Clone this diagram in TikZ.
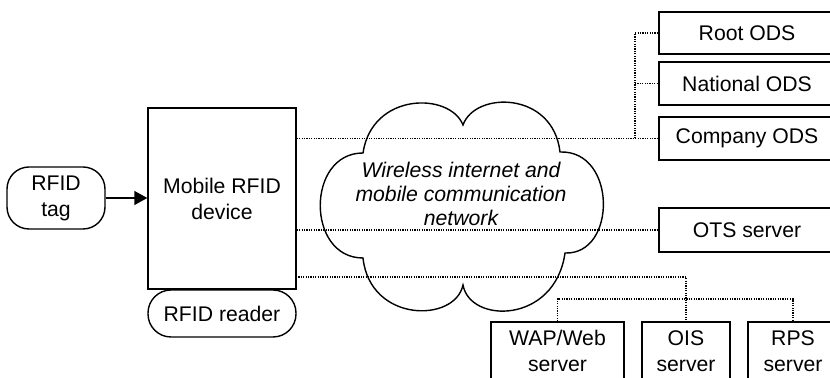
\documentclass[tikz,border=0pt]{standalone}
\usepackage{fontspec}
\setmainfont{Liberation Sans}
\usetikzlibrary{arrows.meta}

\begin{document}
\begin{tikzpicture}[x=0.5pt,y=-0.5pt,
		box/.style={draw,line width=0.7pt,align=center,inner sep=0pt,font=\fontsize{10.6}{13}\selectfont},
		link/.style={line width=0.6pt,dash pattern=on 0.6pt off 0.6pt},
		lbl/.style={align=center,font=\fontsize{10.6}{12}\selectfont\itshape}]
		\useasboundingbox (0,0) rectangle (830,378);
		
		% Geraet links
		\node[box,rounded corners=11pt,minimum width=49pt,minimum height=31pt] (tag) at (56,198) {RFID\\tag};
		\node[box,minimum width=74pt,minimum height=90.5pt] (device) at (222,198.5) {Mobile RFID\\device};
		\node[box,rounded corners=11.5pt,minimum width=74pt,minimum height=23.5pt] (reader) at (222,313.5) {RFID reader};
		\draw[line width=0.7pt,-{Triangle[length=6.5pt,width=7pt]}] (tag.east) -- (tag.east -| device.west);
		
		% Server rechts
		\node[box,minimum width=88pt,minimum height=21pt] (root) at (747,33) {Root ODS};
		\node[box,minimum width=88pt,minimum height=21.5pt] (national) at (747,83.5) {National ODS};
		\node[box,minimum width=88pt,minimum height=21.5pt] (company) at (747,138.5) {Company ODS};
		\node[box,minimum width=88pt,minimum height=22pt] (ots) at (747,230) {OTS server};
		
		% Server unten
		\node[box,minimum width=66.5pt,minimum height=29pt] (wap) at (557.5,351) {WAP/Web\\server};
		\node[box,minimum width=44pt,minimum height=29pt] (ois) at (686,351) {OIS\\server};
		\node[box,minimum width=45pt,minimum height=29pt] (rps) at (793,351) {RPS\\server};
		
		% Verbindungen
		\coordinate (odsbus) at (635,0);
		\coordinate (dev3) at (296,277);
		\coordinate (srvbus) at (0,299);
		\draw[link] (device.east |- company.west) -- (company.west);
		\draw[link] (odsbus |- company.west) |- (root.west);
		\draw[link] (odsbus |- national.west) -- (national.west);
		\draw[link] (device.east |- ots.west) -- (ots.west);
		\draw[link] (dev3) -| (ois.north);
		\draw[link] (wap.north) -- (wap.north |- srvbus) -| (rps.north);
		
		% Wolke
		\draw[line width=0.7pt] (363,153)
			.. controls (372,92) and (450,92) .. (463,125)
			.. controls (475,91) and (553,91) .. (560,152)
			.. controls (617,150) and (617,255) .. (565,253)
			.. controls (555,324) and (470,324) .. (463,285)
			.. controls (455,323) and (370,323) .. (363,258)
			.. controls (306,258) and (306,153) .. cycle;
		\node[lbl] (net) at (461,194) {Wireless internet and\\mobile communication\\network};
		
	\end{tikzpicture}
\end{document}
